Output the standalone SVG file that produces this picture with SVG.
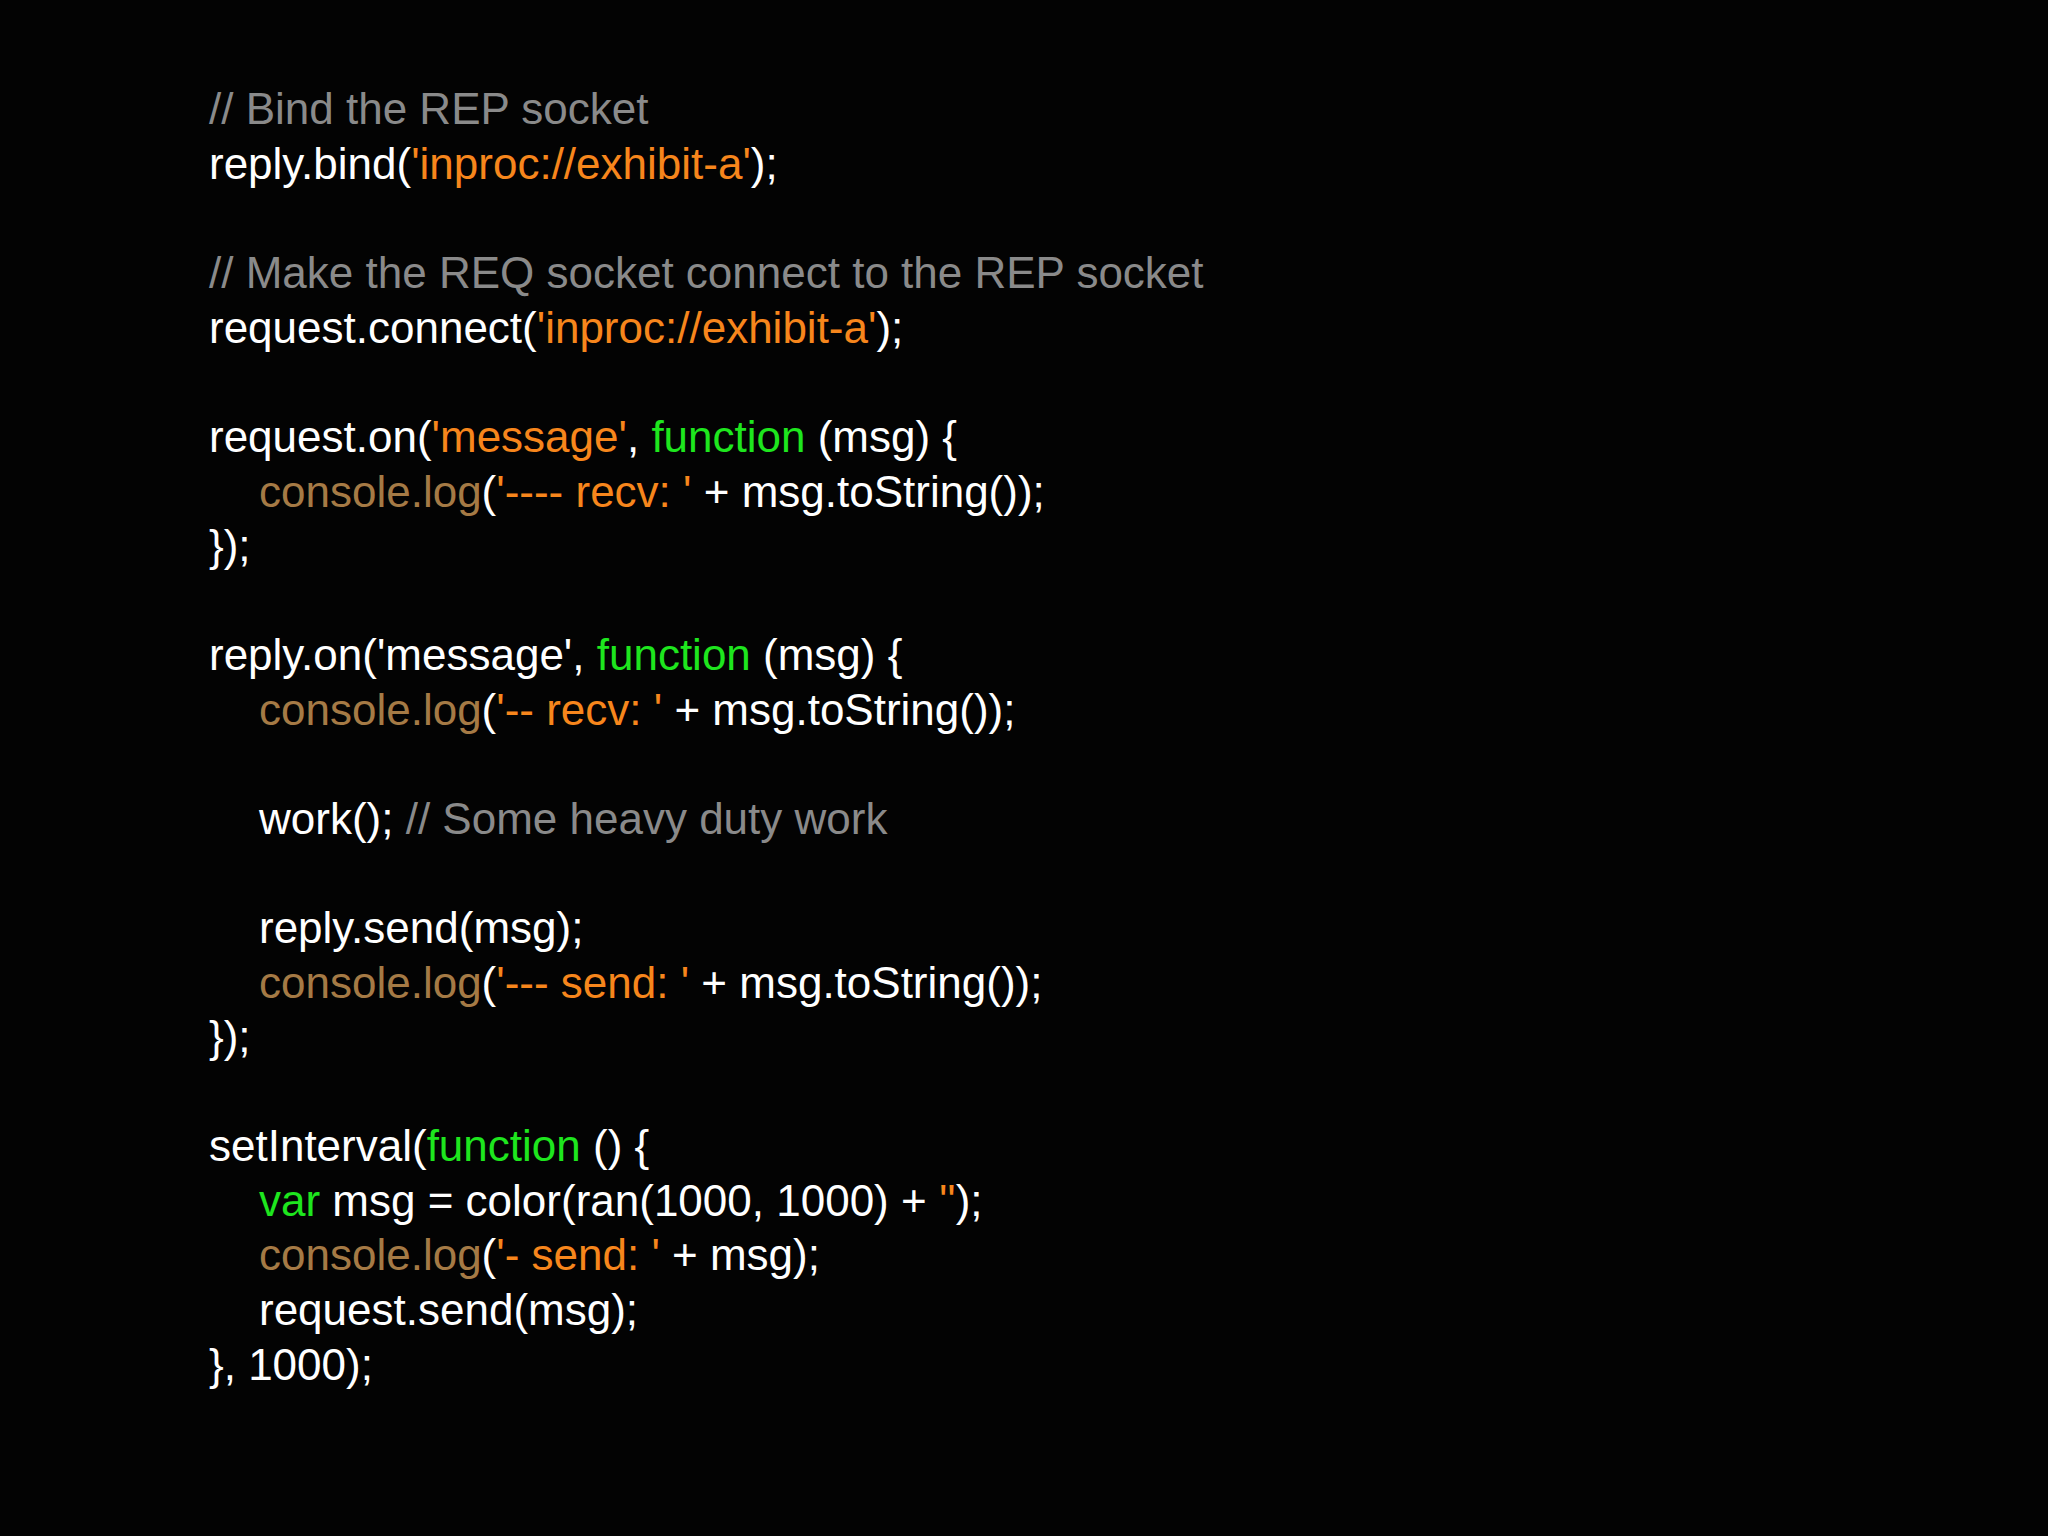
<svg xmlns="http://www.w3.org/2000/svg" width="2048" height="1536" viewBox="0 0 2048 1536">
<style>
text{font-family:"Liberation Sans",Arial,sans-serif;font-size:44px;fill:#ffffff;white-space:pre}
.c{fill:#8a8a8a}.s{fill:#f7861c}.k{fill:#1ee61e}.f{fill:#a57a45}
</style>
<rect width="2048" height="1536" fill="#030303"/>
<g id="code" xml:space="preserve">
<text x="209" y="124"><tspan class="c">// Bind the REP socket</tspan></text>
<text x="209" y="179">reply.bind(<tspan class="s">'inproc://exhibit-a'</tspan>);</text>
<text x="209" y="288"><tspan class="c">// Make the REQ socket connect to the REP socket</tspan></text>
<text x="209" y="343">request.connect(<tspan class="s">'inproc://exhibit-a'</tspan>);</text>
<text x="209" y="452">request.on(<tspan class="s">'message'</tspan>, <tspan class="k">function</tspan> (msg) {</text>
<text x="259" y="507"><tspan class="f">console.log</tspan>(<tspan class="s">'---- recv: '</tspan> + msg.toString());</text>
<text x="209" y="561">});</text>
<text x="209" y="670">reply.on('message', <tspan class="k">function</tspan> (msg) {</text>
<text x="259" y="725"><tspan class="f">console.log</tspan>(<tspan class="s">'-- recv: '</tspan> + msg.toString());</text>
<text x="259" y="834">work(); <tspan class="c">// Some heavy duty work</tspan></text>
<text x="259" y="943">reply.send(msg);</text>
<text x="259" y="998"><tspan class="f">console.log</tspan>(<tspan class="s">'--- send: '</tspan> + msg.toString());</text>
<text x="209" y="1052">});</text>
<text x="209" y="1161">setInterval(<tspan class="k">function</tspan> () {</text>
<text x="259" y="1216"><tspan class="k">var</tspan> msg = color(ran(1000, 1000) + <tspan class="s">''</tspan>);</text>
<text x="259" y="1270"><tspan class="f">console.log</tspan>(<tspan class="s">'- send: '</tspan> + msg);</text>
<text x="259" y="1325">request.send(msg);</text>
<text x="209" y="1380">}, 1000);</text>
</g>
</svg>
